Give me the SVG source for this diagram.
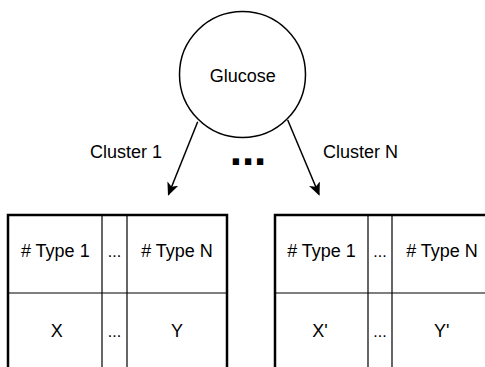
<svg xmlns="http://www.w3.org/2000/svg" width="485" height="367" viewBox="0 0 485 367">
<style>
text{font-family:"Liberation Sans",Arial,sans-serif;font-size:18px;fill:#000}
.c{text-anchor:middle}
.d{font-size:16px}
.outer{fill:#fff;stroke:#000;stroke-width:2.5}
.inner{stroke:#000;stroke-width:1.2;fill:none}
.edge{stroke:#000;stroke-width:1.5;fill:none}
</style>
<defs>
<marker id="ah" viewBox="0 0 10 10" refX="9" refY="5" markerWidth="13" markerHeight="13" orient="auto" markerUnits="userSpaceOnUse">
<path d="M0,0.5 L10,5 L0,9.5 L2.5,5 Z" fill="#000"/>
</marker>
</defs>
<rect width="485" height="367" fill="#fff"/>
<g id="connectors">
<line class="edge" x1="197.7" y1="121.7" x2="168.5" y2="194.5" marker-end="url(#ah)"/>
<line class="edge" x1="287.7" y1="120" x2="319" y2="194.5" marker-end="url(#ah)"/>
<text x="90" y="157.7">Cluster 1</text>
<text x="323" y="157.7">Cluster N</text>
</g>
<g id="glucose">
<circle cx="242.5" cy="74.5" r="63" fill="#fff" stroke="#000" stroke-width="1.5"/>
<text class="c" x="242.7" y="81.7">Glucose</text>
</g>
<g id="ellipsis">
<text class="c" x="248" y="165" style="font-size:44px;font-weight:bold">...</text>
</g>
<g id="table1">
<rect class="outer" x="8" y="215" width="219" height="170"/>
<line class="inner" x1="102" y1="215" x2="102" y2="367"/>
<line class="inner" x1="127" y1="215" x2="127" y2="367"/>
<line class="inner" x1="8" y1="293" x2="227" y2="293"/>
<text class="c" x="55.3" y="257.3"># Type 1</text>
<text class="c d" x="114.5" y="257.3">...</text>
<text class="c" x="177" y="257.3"># Type N</text>
<text class="c" x="56.7" y="337.3">X</text>
<text class="c d" x="114.5" y="337.3">...</text>
<text class="c" x="177" y="337.3">Y</text>
</g>
<g id="table2">
<rect class="outer" x="275" y="215" width="217" height="170"/>
<line class="inner" x1="368" y1="215" x2="368" y2="367"/>
<line class="inner" x1="392" y1="215" x2="392" y2="367"/>
<line class="inner" x1="275" y1="293" x2="492" y2="293"/>
<text class="c" x="321.5" y="257.3"># Type 1</text>
<text class="c d" x="380" y="257.3">...</text>
<text class="c" x="442" y="257.3"># Type N</text>
<text class="c" x="320" y="337.3">X'</text>
<text class="c d" x="380" y="337.3">...</text>
<text class="c" x="441.7" y="337.3">Y'</text>
</g>
</svg>
